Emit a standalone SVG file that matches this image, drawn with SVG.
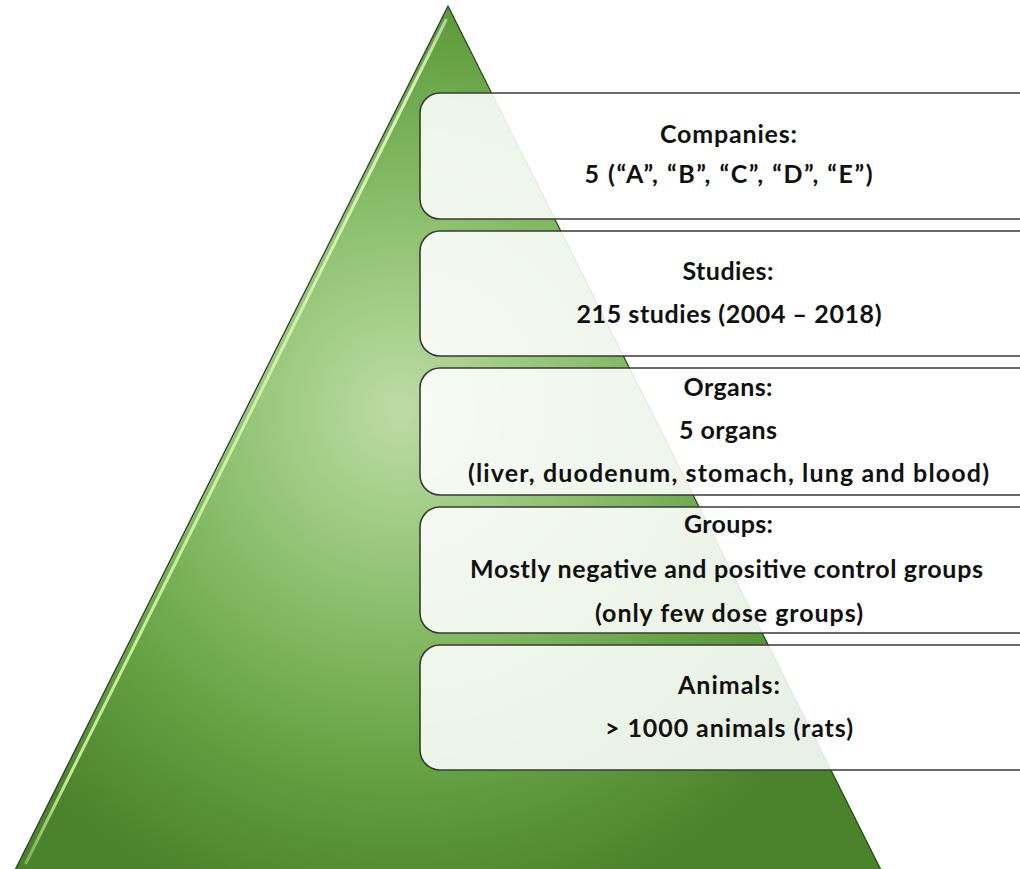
<svg xmlns="http://www.w3.org/2000/svg" width="1020" height="869" viewBox="0 0 1020 869">
  <style>
    .box { fill: #ffffff; fill-opacity: 0.88; stroke: #3a3a3a; stroke-width: 1.6; }
    .t { font-family: "Lato", "Liberation Sans", sans-serif; font-weight: 700; font-size: 25px; fill: #111111; text-anchor: middle; }
  </style>
  <defs>
    <radialGradient id="pyrGrad" gradientUnits="userSpaceOnUse" cx="400" cy="410" r="520">
      <stop offset="0" stop-color="#bcdca6"/>
      <stop offset="0.35" stop-color="#8fc270"/>
      <stop offset="0.7" stop-color="#64a142"/>
      <stop offset="1" stop-color="#4b822c"/>
    </radialGradient>
    <linearGradient id="hlGrad" gradientUnits="userSpaceOnUse" x1="446" y1="18" x2="26" y2="864">
      <stop offset="0" stop-color="#e4f8cc" stop-opacity="0.6"/>
      <stop offset="0.08" stop-color="#d8f5b4"/>
      <stop offset="0.9" stop-color="#c4ec96"/>
      <stop offset="1" stop-color="#b4e080" stop-opacity="0.5"/>
    </linearGradient>
  </defs>

  <g id="pyramid">
    <polygon points="448,6 884,876 12,876" fill="url(#pyrGrad)" stroke="#24401a" stroke-width="1.2" stroke-linejoin="round"/>
    <line x1="446" y1="20" x2="26" y2="863" stroke="url(#hlGrad)" stroke-width="3" stroke-linecap="round"/>
  </g>

  <g id="companies">
    <rect class="box" x="420" y="93" width="640" height="126" rx="20" ry="20"/>
    <text class="t" x="728.5" y="143" textLength="137" lengthAdjust="spacing">Companies:</text>
    <text class="t" x="728.5" y="183" textLength="288" lengthAdjust="spacing">5 (“A”, “B”, “C”, “D”, “E”)</text>
  </g>

  <g id="studies">
    <rect class="box" x="420" y="231" width="640" height="125" rx="20" ry="20"/>
    <text class="t" x="728" y="280" textLength="91" lengthAdjust="spacing">Studies:</text>
    <text class="t" x="729" y="323" textLength="305" lengthAdjust="spacing">215 studies (2004 – 2018)</text>
  </g>

  <g id="organs">
    <rect class="box" x="420" y="368" width="640" height="127" rx="20" ry="20"/>
    <text class="t" x="728" y="396" textLength="89" lengthAdjust="spacing">Organs:</text>
    <text class="t" x="728" y="439" textLength="98" lengthAdjust="spacing">5 organs</text>
    <text class="t" x="728.5" y="482" textLength="521" lengthAdjust="spacing">(liver, duodenum, stomach, lung and blood)</text>
  </g>

  <g id="groups">
    <rect class="box" x="420" y="507" width="640" height="126" rx="20" ry="20"/>
    <text class="t" x="728.5" y="533" textLength="89" lengthAdjust="spacing">Groups:</text>
    <text class="t" x="726.5" y="578" textLength="513" lengthAdjust="spacing">Mostly negative and positive control groups</text>
    <text class="t" x="729" y="622" textLength="268" lengthAdjust="spacing">(only few dose groups)</text>
  </g>

  <g id="animals">
    <rect class="box" x="420" y="645" width="640" height="125" rx="20" ry="20"/>
    <text class="t" x="729" y="694" textLength="102" lengthAdjust="spacing">Animals:</text>
    <text class="t" x="729" y="737" textLength="248" lengthAdjust="spacing">&gt; 1000 animals (rats)</text>
  </g>
</svg>
